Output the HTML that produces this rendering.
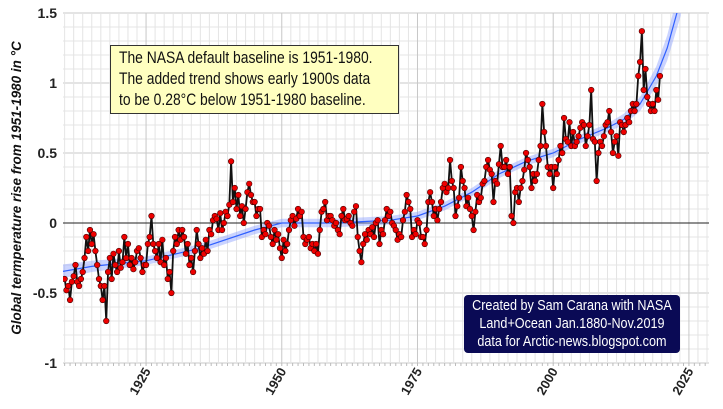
<!DOCTYPE html>
<html><head><meta charset="utf-8"><style>
body{margin:0;background:#fff;width:723px;height:409px;overflow:hidden;font-family:"Liberation Sans",sans-serif}
svg{position:absolute;left:0;top:0}
.note{position:absolute;font-family:"Liberation Sans",sans-serif;white-space:nowrap;overflow:hidden}
.inner{display:inline-block;transform-origin:0 0}
</style></head><body>
<svg id="chart" width="723" height="409"></svg>
<div class="note" style="left:110px;top:45px;width:289px;height:69px;background:#ffffc0;border:1px solid #333;font-size:16.5px;line-height:21px;padding:2px 0 0 8px;box-sizing:border-box;color:#111"><span class="inner" style="transform:scaleX(0.84)">The NASA default baseline is 1951-1980.<br>The added trend shows early 1900s data<br>to be 0.28°C below 1951-1980 baseline.</span></div>
<div class="note" style="left:464px;top:295px;width:216px;height:58px;background:#0a0a55;border-radius:4px;color:#fff;font-size:15px;line-height:18px;padding-top:2px;box-sizing:border-box"><span class="inner" style="transform:scaleX(0.84);width:257px;text-align:center">Created by Sam Carana with NASA<br>Land+Ocean Jan.1880-Nov.2019<br>data for Arctic-news.blogspot.com</span></div>
<script>
const startYear = 1910;
const perYear = 3;
const anomalies = [
-0.40,-0.48,-0.45, -0.55,-0.42,-0.38, -0.30,-0.42,-0.45, -0.40,-0.35,-0.25, -0.10,-0.20,-0.05,
-0.15,-0.08,-0.20, -0.30,-0.40,-0.45, -0.55,-0.45,-0.70, -0.35,-0.25,-0.40, -0.22,-0.30,-0.35,
-0.20,-0.32,-0.28, -0.10,-0.25,-0.15, -0.30,-0.25,-0.33, -0.28,-0.20,-0.18, -0.25,-0.35,-0.30,
-0.30,-0.15,-0.10, 0.05,-0.15,-0.20, -0.25,-0.15,-0.28, -0.12,-0.30,-0.25, -0.40,-0.35,-0.50,
-0.20,-0.10,-0.15, -0.05,-0.12,-0.05, -0.10,-0.22,-0.15, -0.30,-0.25,-0.35, -0.20,-0.05,-0.15,
-0.25,-0.18,-0.22, -0.12,-0.20,-0.05, -0.08,0.02,0.05, 0.03,-0.05,0.07, -0.05,0.00,0.08,
0.05,0.13,0.44, 0.15,0.25,0.10, 0.20,0.05,0.12, 0.00,0.10,0.22, 0.28,0.20,0.15,
0.15,0.05,0.10, 0.10,-0.10,-0.05, -0.08,0.00,-0.02, -0.10,-0.15,-0.05, -0.12,-0.08,-0.18,
-0.25,-0.12,-0.20, -0.15,-0.05,0.02, 0.05,-0.02,0.03, 0.10,0.05,0.08, -0.10,-0.15,-0.12,
-0.10,-0.18,-0.15, -0.20,-0.15,-0.22, -0.05,0.08,0.10, 0.15,0.02,0.05, 0.05,0.02,-0.02,
0.00,-0.05,-0.08, 0.05,0.10,0.02, 0.03,0.05,0.00, -0.02,0.08,0.12, -0.10,-0.20,-0.28,
-0.15,-0.08,-0.12, -0.05,-0.08,-0.03, -0.10,0.00,0.02, -0.15,-0.05,-0.08, 0.02,0.10,0.05,
0.08,0.00,-0.02, -0.05,-0.12,-0.08, -0.10,0.02,0.08, 0.20,0.15,0.10, -0.10,-0.05,-0.08,
0.02,0.00,-0.10, -0.10,-0.15,-0.05, 0.15,0.22,0.15, 0.05,0.10,0.02, 0.10,0.15,0.25,
0.28,0.22,0.25, 0.45,0.30,0.25, 0.05,0.12,0.18, 0.40,0.30,0.25, 0.12,0.18,0.10,
0.05,-0.05,0.08, 0.20,0.15,0.18, 0.28,0.30,0.40, 0.45,0.38,0.35, 0.15,0.30,0.28,
0.42,0.55,0.40, 0.40,0.45,0.35, 0.40,0.05,0.00, 0.22,0.25,0.15, 0.25,0.30,0.38,
0.50,0.45,0.40, 0.25,0.35,0.30, 0.35,0.45,0.55, 0.85,0.65,0.55, 0.40,0.35,0.40,
0.25,0.40,0.35, 0.45,0.55,0.50, 0.75,0.60,0.58, 0.72,0.55,0.65, 0.55,0.58,0.62,
0.68,0.72,0.70, 0.55,0.62,0.70, 0.95,0.60,0.58, 0.30,0.50,0.58, 0.55,0.62,0.70,
0.72,0.80,0.65, 0.50,0.58,0.62, 0.48,0.72,0.70, 0.65,0.70,0.75, 0.72,0.80,0.85,
0.80,0.85,1.05, 1.15,1.37,0.95, 1.10,0.90,0.85, 0.80,0.85,0.80, 0.95,0.88,1.05
];
const trendYears = [1909,1915,1925,1935,1945,1950,1960,1970,1975,1980,1985,1990,1995,2000,2005,2010,2013,2016,2019,2021,2023.5];
const trendValues = [-0.35,-0.31,-0.27,-0.18,-0.05,0.00,0.00,0.02,0.05,0.12,0.22,0.35,0.44,0.50,0.60,0.68,0.74,0.85,1.05,1.25,1.6];
const trendBand = [0.05,0.04,0.03,0.03,0.03,0.03,0.03,0.03,0.03,0.03,0.03,0.03,0.03,0.03,0.03,0.03,0.04,0.05,0.07,0.09,0.12];
const yTicks = [1.5,1,0.5,0,-0.5,-1];
const yTickLabels = ["1.5","1","0.5","0","-0.5","-1"];
const xTicks = [1925,1950,1975,2000,2025];

const L=63,R=709,T=13,B=363;
const X0=1909.7,X1=2028.7,Y0=-1,Y1=1.5;
const xs=v=>L+(v-X0)/(X1-X0)*(R-L);
const ys=v=>B-(v-Y0)/(Y1-Y0)*(B-T);
const NS="http://www.w3.org/2000/svg";
const svg=document.getElementById('chart');
function mk(tag,attrs,parent){const e=document.createElementNS(NS,tag);for(const k in attrs)e.setAttribute(k,attrs[k]);(parent||svg).appendChild(e);return e;}
const defs=mk('defs',{});const cp=mk('clipPath',{id:'clip'},defs);mk('rect',{x:L,y:T,width:R-L,height:B-T},cp);

const grid=mk('g',{});


for(let y=-1;y<=1.5001;y+=0.1){const major=Math.abs(y*2-Math.round(y*2))<1e-6;
 mk('line',{x1:L,x2:R,y1:ys(y),y2:ys(y),stroke:major?'#c8c8c8':'#e4e4e4','stroke-width':1},grid);}
for(let x=1925-25/15*9;x<=X1;x+=25/15){const major=Math.abs((x-1925)/25-Math.round((x-1925)/25))<1e-6;
 if(x<X0)continue;
 mk('line',{y1:T,y2:B,x1:xs(x),x2:xs(x),stroke:major?'#c8c8c8':'#e4e4e4','stroke-width':1},grid);}
for(let x=1910;x<=2028;x++){mk('line',{x1:xs(x),x2:xs(x),y1:B,y2:B+3,stroke:'#bbb'},grid);}
mk('line',{x1:L,x2:R,y1:ys(0),y2:ys(0),stroke:'#222','stroke-width':1},grid);

const plot=mk('g',{'clip-path':'url(#clip)'});
let up=trendYears.map((y,i)=>xs(y)+','+ys(trendValues[i]+trendBand[i]));
let dn=trendYears.map((y,i)=>xs(y)+','+ys(trendValues[i]-trendBand[i])).reverse();
const band=mk('polygon',{points:up.concat(dn).join(' '),fill:'#8ca0ff','fill-opacity':0.45},plot);


const tl=mk('polyline',{points:trendYears.map((y,i)=>xs(y)+','+ys(trendValues[i])).join(' '),fill:'none',stroke:'#3060ff','stroke-width':1.2},plot);


const pts=anomalies.map((v,i)=>[xs(startYear+i/perYear),ys(v)]);
const ln=mk('polyline',{points:pts.map(p=>p.join(',')).join(' '),fill:'none',stroke:'#111','stroke-width':1.8},plot);


pts.forEach(p=>{const c=mk('circle',{cx:p[0],cy:p[1],r:2.8,fill:'#ee0000',stroke:'#400','stroke-width':0.6},plot);
 
 });

yTicks.forEach((v,i)=>{const t=mk('text',{x:57,y:ys(v)+5,'text-anchor':'end','font-size':14,'font-weight':'bold',fill:'#222','font-family':'Liberation Sans'});t.textContent=yTickLabels[i];
 
 });
xTicks.forEach(v=>{const t=mk('text',{transform:`translate(${xs(v)+5},${B+8}) rotate(-60)`,'text-anchor':'end','font-size':13,'font-weight':'bold',fill:'#222','font-family':'Liberation Sans'});t.textContent=v;
 
 });
const yt=mk('text',{transform:'translate(21,188) rotate(-90)','text-anchor':'middle','font-size':13.5,'font-style':'italic','font-weight':'bold',fill:'#111','font-family':'Liberation Sans'});
yt.textContent='Global termperature rise from 1951-1980 in °C';


</script>
</body></html>
